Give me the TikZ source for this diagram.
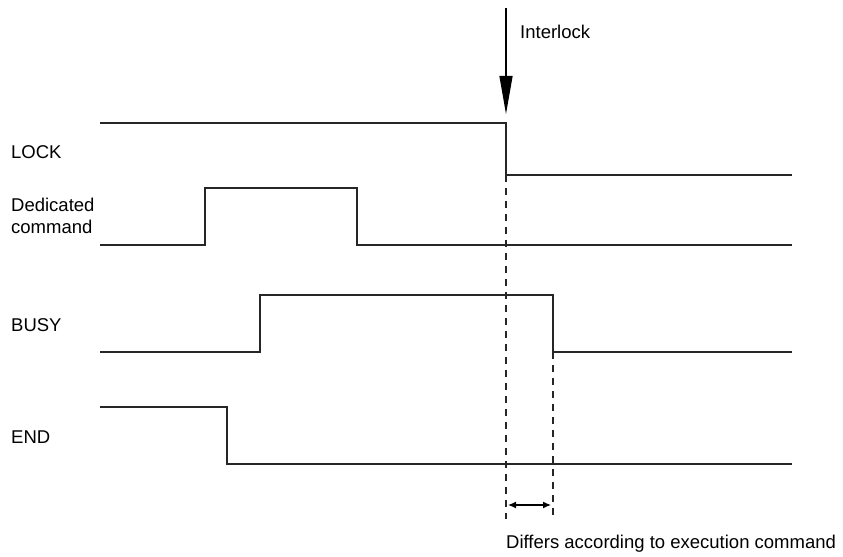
\documentclass[tikz,border=0pt]{standalone}
\usepackage{fontspec}
\setmainfont{Liberation Sans}
\usetikzlibrary{arrows.meta}
\begin{document}
\begin{tikzpicture}[x=1bp,y=-1bp,
    every node/.style={font=\fontsize{18.5bp}{22bp}\selectfont, inner sep=0pt},
    siglabel/.style={anchor=west, align=left},
    wave/.style={line width=1.2bp, line join=miter, color=black!85},
    guide/.style={line width=1.1bp, dash pattern=on 7bp off 6bp, color=black!85},
    interlock/.style={line width=1.2bp, -{Triangle[length=38bp,width=13bp]}},
    span/.style={line width=1.2bp, {Latex[length=8bp,width=7bp]}-{Latex[length=8bp,width=7bp]}}]
  \useasboundingbox (0,0) rectangle (843,557);

  % signal names
  \node[siglabel] (lLock) at (11,152) {LOCK};
  \node[siglabel] (lCmd)  at (11,216) {Dedicated\\command};
  \node[siglabel] (lBusy) at (11,325) {BUSY};
  \node[siglabel] (lEnd)  at (11,437) {END};

  % LOCK: falls at the interlock
  \coordinate (lockDrop) at (506,175);
  \draw[wave] (100,123) -- (506,123) -- (lockDrop) -- (792,175);

  % Dedicated command pulse
  \draw[wave] (100,245) -- (205,245) -- (205,188) -- (357,188) -- (357,245) -- (792,245);

  % BUSY
  \coordinate (busyDrop) at (553,352);
  \draw[wave] (100,352) -- (260,352) -- (260,295) -- (553,295) -- (busyDrop) -- (792,352);

  % END
  \draw[wave] (100,407) -- (227,407) -- (227,464) -- (792,464);

  % interlock marker
  \coordinate (ilTop) at (506,8);
  \coordinate (ilTip) at (506,114);
  \draw[interlock] (ilTop) -- (ilTip);
  \node[anchor=west] (lInter) at (520,32) {Interlock};

  % delay guides
  \coordinate (g1) at (506,519);
  \coordinate (g2) at (553,519);
  \draw[guide] (lockDrop) -- (g1);
  \draw[guide] (busyDrop) -- (g2);

  % delay span
  \coordinate (s1) at (508,505);
  \coordinate (s2) at (551,505);
  \draw[span] (s1) -- (s2);
  \node[anchor=west] (lDiff) at (506,544) {Differs according to execution command};
\end{tikzpicture}
\end{document}
